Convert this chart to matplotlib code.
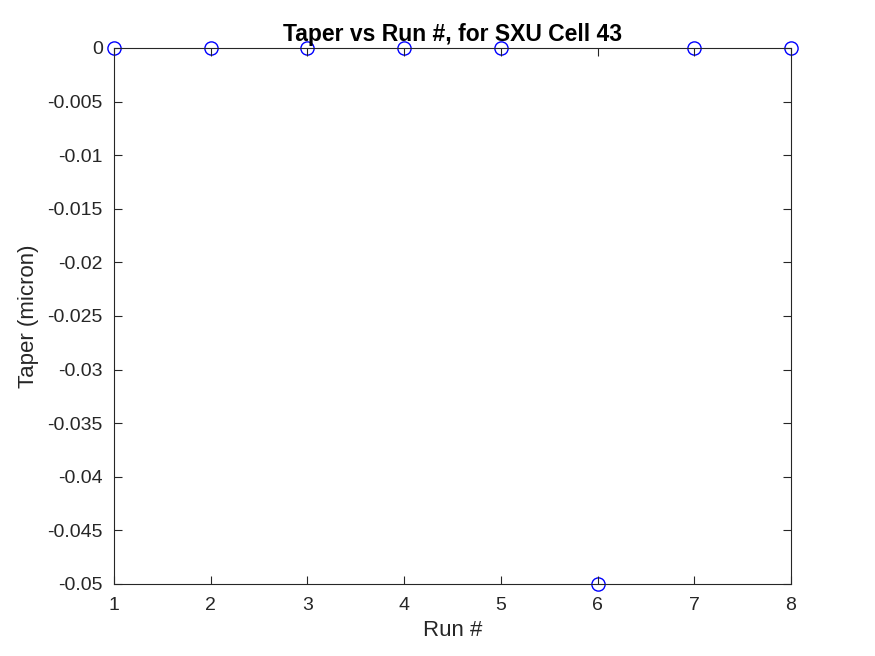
import matplotlib.pyplot as plt

run = [1, 2, 3, 4, 5, 6, 7, 8]
taper = [0, 0, 0, 0, 0, -0.05, 0, 0]
yticks = [-0.05, -0.045, -0.04, -0.035, -0.03, -0.025, -0.02, -0.015, -0.01, -0.005, 0]
ytick_labels = ['-0.05', '-0.045', '-0.04', '-0.035', '-0.03', '-0.025', '-0.02',
                '-0.015', '-0.01', '-0.005', '0']

plt.rcParams['font.family'] = ['Arial', 'Liberation Sans', 'DejaVu Sans']

fig = plt.figure(figsize=(8.75, 6.56), dpi=100)
ax = fig.add_axes([114 / 875, 72 / 656, 677 / 875, 536 / 656])

ax.plot(run, taper, 'o', color='blue', markerfacecolor='none', markersize=9.5,
        markeredgewidth=1.0, clip_on=False, zorder=1)

ax.set_xlim(1, 8)
ax.set_ylim(-0.05, 0)
ax.set_xticks(run)
ax.set_yticks(yticks)
ax.set_yticklabels(ytick_labels)
ax.tick_params(direction='in', top=True, right=True, labelsize=14, length=6,
               colors='#262626', width=0.8)
ax.tick_params(axis='x', pad=9.5)
ax.tick_params(axis='y', pad=8)
for s in ax.spines.values():
    s.set_linewidth(0.8)
    s.set_color('#262626')
    s.set_zorder(3)

ax.set_xlabel('Run #', fontsize=16, color='#262626', labelpad=4)
ax.set_ylabel('Taper (micron)', fontsize=16, color='#262626', labelpad=6)
ax.set_title('Taper vs Run #, for SXU Cell 43', fontsize=16.5, fontweight='bold', pad=5)

fig.savefig('out.png', dpi=100)
